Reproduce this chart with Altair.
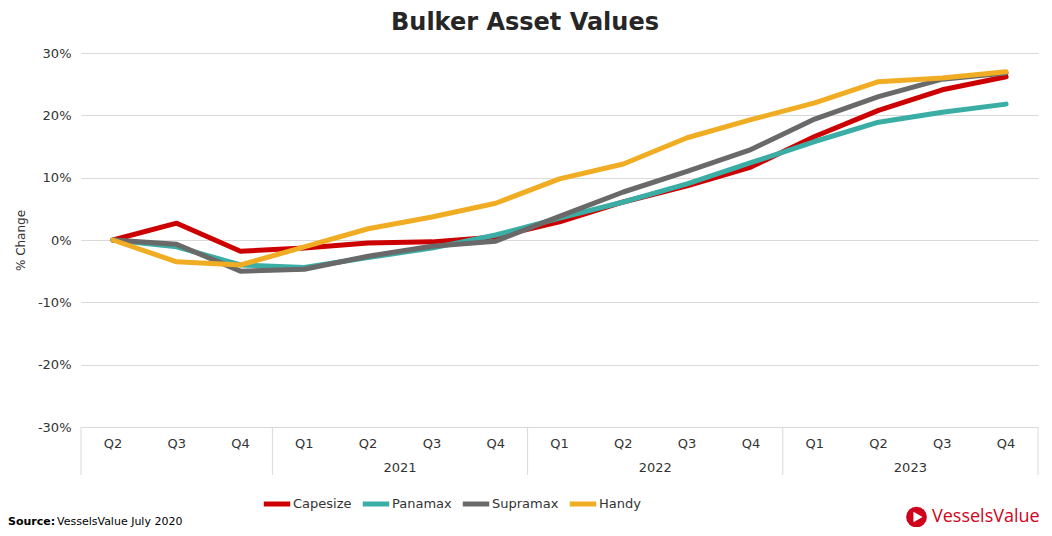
import altair as alt
import pandas as pd

quarters = ["Q2", "Q3", "Q4", "Q1", "Q2", "Q3", "Q4", "Q1", "Q2", "Q3", "Q4", "Q1", "Q2", "Q3", "Q4"]
years = ["2021", "2022", "2023"]
year_centers = [4.5, 8.5, 12.5]
separators = [-0.5, 2.5, 6.5, 10.5, 14.5]

series_names = ["Capesize", "Panamax", "Supramax", "Handy"]
series_colors = ["#CC0000", "#3AADA5", "#696969", "#F0AD23"]

capesize = [0.0, 2.7, -1.8, -1.3, -0.5, -0.3, 0.5, 2.9, 6.1, 8.7, 11.7, 16.6, 20.8, 24.1, 26.2]
panamax = [0.0, -1.1, -4.0, -4.4, -2.8, -1.3, 0.8, 3.5, 6.1, 9.0, 12.4, 15.8, 18.9, 20.5, 21.8]
supramax = [0.0, -0.7, -5.0, -4.7, -2.6, -1.0, -0.2, 3.8, 7.7, 11.0, 14.5, 19.4, 23.0, 25.8, 26.8]
handy = [0.0, -3.5, -4.0, -1.1, 1.8, 3.7, 5.9, 9.8, 12.2, 16.4, 19.3, 22.0, 25.4, 26.0, 27.0]

y_ticks = [-0.3, -0.2, -0.1, 0.0, 0.1, 0.2, 0.3]

rows = []
for name, vals in zip(series_names, [capesize, panamax, supramax, handy]):
    for i, v in enumerate(vals):
        rows.append({"series": name, "idx": i, "value": v / 100.0})
df = pd.DataFrame(rows)

W, H = 957, 374
FONT = "DejaVu Sans"

xscale = alt.Scale(domain=[-0.5, 14.5], nice=False, zero=False)
yscale = alt.Scale(domain=[-0.3, 0.3], nice=False)

lines = alt.Chart(df).mark_line(strokeWidth=5, strokeCap="round", strokeJoin="round").encode(
    x=alt.X("idx:Q", scale=xscale, axis=None),
    y=alt.Y("value:Q", scale=yscale,
            axis=alt.Axis(values=y_ticks, ticks=False, domain=False,
                          labelExpr="(datum.value < 0 ? '-' : '') + format(abs(datum.value), '.0%')",
                          gridColor="#D9D9D9", gridWidth=1, labelPadding=10,
                          labelFont=FONT, labelFontSize=13, labelColor="#333333",
                          title="% Change", titleFont=FONT, titleFontSize=12,
                          titleFontWeight="normal", titleColor="#333333", titlePadding=10)),
    color=alt.Color("series:N", sort=series_names,
                    scale=alt.Scale(domain=series_names, range=series_colors),
                    legend=alt.Legend(orient="none", legendX=180, legendY=435, direction="horizontal",
                                      title=None, symbolType="stroke", symbolStrokeWidth=5,
                                      symbolSize=700, labelOffset=0, columnPadding=0,
                                      labelFont=FONT, labelFontSize=13, labelColor="#333333")),
)

qdf = pd.DataFrame({"idx": list(range(len(quarters))), "q": quarters})
qlabels = alt.Chart(qdf).mark_text(font=FONT, fontSize=13, color="#333333", baseline="middle").encode(
    x=alt.X("idx:Q", scale=xscale, axis=None), y=alt.value(H + 17), text="q:N")

ydf = pd.DataFrame({"idx": year_centers, "y": years})
ylabels = alt.Chart(ydf).mark_text(font=FONT, fontSize=13, color="#333333", baseline="middle").encode(
    x=alt.X("idx:Q", scale=xscale, axis=None), y=alt.value(H + 41), text="y:N")

sdf = pd.DataFrame({"idx": separators})
seps = alt.Chart(sdf).mark_rule(color="#D9D9D9", strokeWidth=1).encode(
    x=alt.X("idx:Q", scale=xscale, axis=None), y=alt.value(H), y2=alt.value(H + 48))

title = alt.Chart(pd.DataFrame({"t": ["Bulker Asset Values"]})).mark_text(
    font=FONT, fontSize=24, fontWeight="bold", color="#262626", baseline="middle", align="center").encode(
    x=alt.value(444), y=alt.value(-30), text="t:N")

src1 = alt.Chart(pd.DataFrame({"t": ["Source:"]})).mark_text(
    font=FONT, fontSize=11, fontWeight="bold", color="#000000", baseline="middle", align="left").encode(
    x=alt.value(-73), y=alt.value(469), text="t:N")
src2 = alt.Chart(pd.DataFrame({"t": ["VesselsValue July 2020"]})).mark_text(
    font=FONT, fontSize=11, color="#000000", baseline="middle", align="left").encode(
    x=alt.value(-24), y=alt.value(469), text="t:N")

logo_c = alt.Chart(pd.DataFrame({"k": ["c"]})).mark_point(
    shape="circle", filled=True, color="#D0021B", size=430, opacity=1).encode(
    x=alt.value(835.5), y=alt.value(464))
logo_t = alt.Chart(pd.DataFrame({"k": ["t"]})).mark_point(
    shape="triangle-right", filled=True, color="#FFFFFF", size=110, opacity=1).encode(
    x=alt.value(837), y=alt.value(464))
logo_txt = alt.Chart(pd.DataFrame({"t": ["VesselsValue"]})).mark_text(
    font="Open Sans", fontSize=18, color="#D0021B", baseline="middle", align="left").encode(
    x=alt.value(851), y=alt.value(464), text="t:N")

chart = alt.layer(seps, lines, qlabels, ylabels, title, src1, src2, logo_c, logo_t, logo_txt).properties(
    width=W, height=H,
    autosize=alt.AutoSizeParams(type="none"),
    padding={"left": 73, "top": 45, "right": 6, "bottom": 100},
).configure_view(stroke=None)

chart.save("out.html", embed_options={"renderer": "svg", "actions": False})
